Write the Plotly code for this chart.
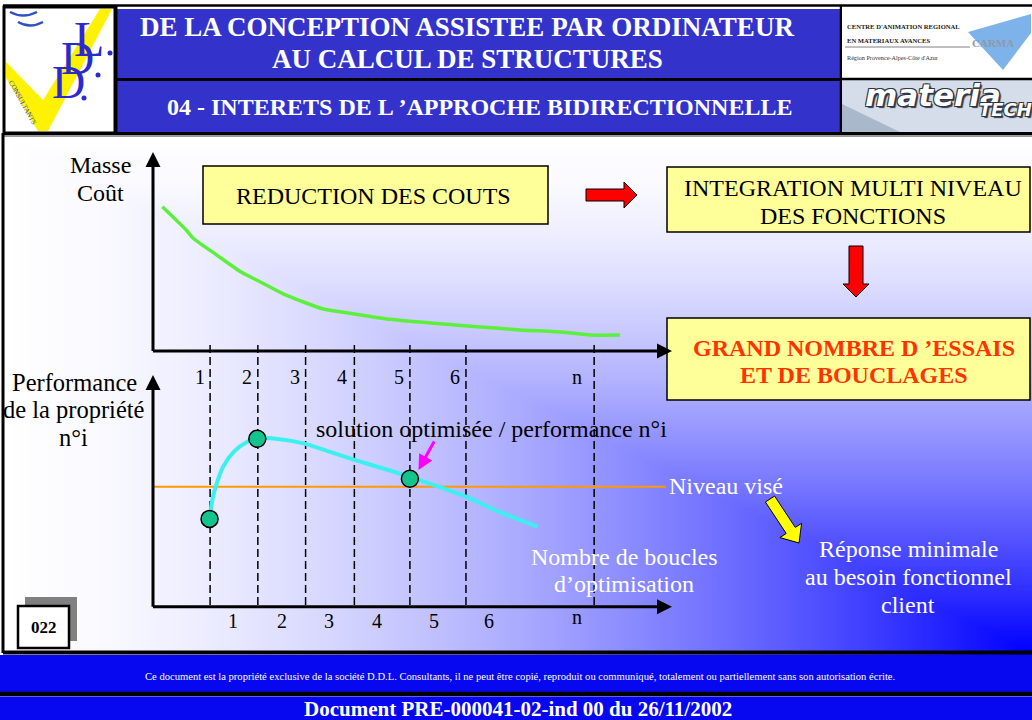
import math
import numpy as np
import plotly.graph_objects as go

W, H = 1032, 720

# ---------------- chart values (loop index on x) ----------------
loop_marks = [1.10, 2.02, 2.94, 3.88, 4.95, 6.03, 8.50]
loop_labels = ["1", "2", "3", "4", "5", "6", "n"]
upper_label_x = [0.90, 1.81, 2.74, 3.65, 4.74, 5.82, 8.16]
lower_label_x = [1.55, 2.48, 3.40, 4.32, 5.41, 6.48, 8.16]

# mass / cost versus number of loops
cost_x = [0.18, 0.64, 0.77, 1.23, 1.69, 2.06, 2.52, 3.28, 3.74, 4.57, 5.41, 6.24, 7.07, 7.92, 8.42, 9.00]
cost_y = [72.5, 60.8, 56.8, 48.2, 39.8, 34.8, 28.6, 21.1, 19.2, 15.9, 13.9, 12.2, 10.6, 9.4, 8.0, 8.0]

# performance of property n°i versus number of loops
perf_x = [1.09, 1.15, 1.23, 1.35, 1.56, 1.82, 2.02, 2.48, 2.90, 3.40, 3.90, 4.32, 4.95, 5.41, 6.03, 6.66, 7.41]
perf_y = [38.0, 46.8, 53.3, 60.4, 66.9, 71.2, 72.7, 72.2, 70.5, 66.9, 63.3, 60.4, 56.1, 52.5, 47.5, 41.0, 34.5]

# highlighted solutions
sol_x = [1.09, 2.01, 4.95]
sol_y = [37.9, 72.5, 55.2]

target_level = 51.8
target_end = 9.88

SERIF = "Liberation Serif"

fig = go.Figure()

# ---------------- background gradient of the slide body ----------------
gx = np.linspace(4, W, 130)
gy = np.linspace(136, 651, 66)
GX, GY = np.meshgrid(gx, gy)
T = np.clip(np.maximum((1030 - GX) / 1026.0, (651 - GY) / 515.0), 0, 1)
stops = np.linspace(0, 1, 11)
cscale = []
for t in stops:
    v = int(round(255 * (1 - (1 - t) ** 1.6)))
    cscale.append([float(t), f"rgb({v},{v},255)"])
fig.add_trace(go.Heatmap(x=gx, y=gy, z=T, colorscale=cscale, zmin=0, zmax=1,
                         showscale=False, zsmooth="best", hoverinfo="skip",
                         xaxis="x", yaxis="y"))

# ---------------- dashed loop markers ----------------
dxs, dys = [], []
for m in loop_marks:
    dxs += [m, m, None]
    dys += [0, 1, None]
fig.add_trace(go.Scatter(x=dxs, y=dys, mode="lines", xaxis="x2", yaxis="y2",
                         line=dict(color="black", width=1.5, dash="8px,4px"),
                         hoverinfo="skip"))

# ---------------- upper chart: mass / cost ----------------
fig.add_trace(go.Scatter(x=cost_x, y=cost_y, mode="lines", xaxis="x3", yaxis="y3",
                         line=dict(color="#5CF03C", width=3.5, shape="spline", smoothing=0.6),
                         hoverinfo="skip"))

# ---------------- lower chart: performance ----------------
fig.add_trace(go.Scatter(x=[0, target_end], y=[target_level, target_level], mode="lines",
                         xaxis="x4", yaxis="y4", line=dict(color="#FF9900", width=2),
                         hoverinfo="skip"))
fig.add_trace(go.Scatter(x=perf_x, y=perf_y, mode="lines", xaxis="x4", yaxis="y4",
                         line=dict(color="#3CF0F0", width=4, shape="spline", smoothing=0.7),
                         hoverinfo="skip"))
fig.add_trace(go.Scatter(x=sol_x, y=sol_y, mode="markers", xaxis="x4", yaxis="y4",
                         marker=dict(size=17, color="#14C48C", line=dict(color="black", width=1.5)),
                         hoverinfo="skip"))

shapes = []
annots = []


def rect(x0, y0, x1, y1, fill, lc="rgba(0,0,0,0)", lw=0):
    shapes.append(dict(type="rect", xref="x", yref="y", x0=x0, y0=y0, x1=x1, y1=y1,
                       fillcolor=fill, line=dict(color=lc, width=lw), layer="above"))


def hline(x0, x1, y, color="black", lw=2):
    shapes.append(dict(type="line", xref="x", yref="y", x0=x0, x1=x1, y0=y, y1=y,
                       line=dict(color=color, width=lw), layer="above"))


def vline(x, y0, y1, color="black", lw=2):
    shapes.append(dict(type="line", xref="x", yref="y", x0=x, x1=x, y0=y0, y1=y1,
                       line=dict(color=color, width=lw), layer="above"))


def path(d, fill="rgba(0,0,0,0)", lc="rgba(0,0,0,0)", lw=0):
    shapes.append(dict(type="path", xref="x", yref="y", path=d, fillcolor=fill,
                       line=dict(color=lc, width=lw), layer="above"))


def block_arrow(tail, tip, shaft_w, head_w, head_len, fill, lc="black", lw=1):
    tx, ty = tail
    px, py = tip
    dx, dy = px - tx, py - ty
    L = math.hypot(dx, dy)
    ux, uy = dx / L, dy / L
    nx, ny = -uy, ux
    bx, by = px - ux * head_len, py - uy * head_len
    s, h = shaft_w / 2, head_w / 2
    pts = [(tx + nx * s, ty + ny * s), (bx + nx * s, by + ny * s), (bx + nx * h, by + ny * h),
           (px, py), (bx - nx * h, by - ny * h), (bx - nx * s, by - ny * s), (tx - nx * s, ty - ny * s)]
    d = "M " + " L ".join(f"{a:.1f},{b:.1f}" for a, b in pts) + " Z"
    path(d, fill, lc, lw)


def txt(x, y, s, size, color="black", bold=False, xanchor="center", family=SERIF,
        angle=0, italic=False, xref="x", yref="y", shadow=None):
    font = dict(family=family, size=size, color=color,
                weight="bold" if bold else "normal",
                style="italic" if italic else "normal")
    if shadow:
        font["shadow"] = shadow
    annots.append(dict(xref=xref, yref=yref, x=x, y=y, text=s, showarrow=False,
                       xanchor=xanchor, yanchor="middle", textangle=angle, font=font))


def arrow(xr, yr, tip, tail, color="black", width=3, size=1.0):
    annots.append(dict(xref=xr, yref=yr, axref=xr, ayref=yr, x=tip[0], y=tip[1],
                       ax=tail[0], ay=tail[1], text="", showarrow=True, arrowhead=2,
                       arrowsize=size, arrowwidth=width, arrowcolor=color, standoff=0))


# ---------------- header ----------------
hline(3, W, 5.5, "black", 2.5)
rect(117, 9, 840, 133, "#3333CC")
hline(117, 840, 79.5, "black", 3)
hline(3, W, 133.5, "black", 3)
hline(3, W, 136, "#9A9A9A", 2)
vline(116, 6, 134, "black", 3)
vline(841, 6, 134, "black", 2.5)

txt(467, 27, "DE LA CONCEPTION ASSISTEE PAR ORDINATEUR", 27, "white", bold=True)
txt(467, 59, "AU CALCUL DE STRUCTURES", 27, "white", bold=True)
txt(479, 107, "04 - INTERETS DE L ’APPROCHE BIDIRECTIONNELLE", 24, "white", bold=True)

# left logo (D.D.L. Consultants)
rect(4, 7, 115, 133, "white")
path("M 6,62 L 43,100 L 100,9 L 112,9 L 48,131 L 38,131 L 6,78 Z", "#FFF200")
path("M 10,12 Q 23,19 37,12", lc="#3050C0", lw=2.5)
path("M 18,22 Q 30,29 43,22", lc="#3050C0", lw=2.5)
path("M 86.6,133 A 18,18 0 0 1 115,111.1 L 115,133 Z", "#2E3EC0")
path("M 96,116 A 7,6 0 0 1 108,110 L 104,118 Z", "#8090E0")
txt(89, 39, "L", 50, "#2A2ACF")
txt(77, 58, "D", 46, "#2A2ACF")
txt(68, 82, "D", 46, "#2A2ACF")
for cx, cy in [(110, 53), (98, 75), (84, 98)]:
    shapes.append(dict(type="circle", xref="x", yref="y", x0=cx - 2.5, x1=cx + 2.5,
                       y0=cy - 2.5, y1=cy + 2.5, fillcolor="#2A2ACF",
                       line=dict(width=0), layer="above"))
txt(22, 102, "CONSULTANTS", 7, "#3040B0", angle=61)
shapes.append(dict(type="rect", xref="x", yref="y", x0=4, y0=7, x1=115, y1=133,
                   fillcolor="rgba(0,0,0,0)", line=dict(color="black", width=3), layer="above"))

# right logos
rect(842, 7, W, 78, "white")
txt(845, 26, "CENTRE D'ANIMATION REGIONAL", 6.6, "#202020", bold=True, xanchor="left")
txt(845, 40.5, "EN MATERIAUX AVANCES", 6.6, "#202020", bold=True, xanchor="left")
hline(845, 970, 47, "#606060", 0.8)
txt(845, 57, "Région Provence-Alpes-Côte d'Azur", 6.2, "#303030", xanchor="left")
path("M 968,32 L 1031,14 L 1031,33 L 1003,70 Z", "#7EB2EA")
txt(993, 43, "CARMA", 11, "#8C9AA8", bold=True)
rect(842, 80, W, 132, "#D4DDE9")
path("M 842,104 L 900,132 L 842,132 Z", "#AAB8CC")
hline(842, W, 79, "black", 2.5)
OUTLINE = ("1px 1px 0 #303848, -1px -1px 0 #303848, 1px -1px 0 #303848, "
           "-1px 1px 0 #303848, 2px 2px 1px #303848")
txt(933, 95, "materia", 31, "white", bold=True, italic=True, family="DejaVu Sans", shadow=OUTLINE)
txt(1005, 109, "TECH", 18, "white", bold=True, italic=True, family="DejaVu Sans", shadow=OUTLINE)

# ---------------- slide body frame ----------------
vline(3, 133, 653, "black", 3)

# ---------------- boxes ----------------
rect(203, 166, 548, 224, "#FFFF99", "black", 1.5)
rect(667, 167, 1030, 232, "#FFFF99", "black", 1.5)
rect(667, 318, 1030, 400, "#FFFF99", "black", 1.5)

block_arrow((586, 195), (637, 195), 12, 26, 13, "#FF0000")
block_arrow((856, 246), (856, 297), 14, 26, 13, "#FF0000")
block_arrow((770, 499), (799, 543), 11, 26, 15, "#FFFF00")

txt(373, 196, "REDUCTION DES COUTS", 24)
txt(853, 188, "INTEGRATION MULTI NIVEAU", 24)
txt(853, 216, "DES FONCTIONS", 24)
txt(854, 348, "GRAND NOMBRE D ’ESSAIS", 24, "#FF3300", bold=True)
txt(854, 375, "ET DE BOUCLAGES", 24, "#FF3300", bold=True)

# axis titles
txt(100, 165, "Masse", 24)
txt(100, 193, "Coût", 24)
txt(74, 382, "Performance", 24.5)
txt(74, 409, "de la propriété", 24.5)
txt(73, 437, "n°i", 24.5)

# ---------------- axes with arrows ----------------
arrow("x3", "y3", (0, 100), (0, -0.8))
arrow("x3", "y3", (10, 0), (-0.03, 0))
arrow("x4", "y4", (0, 100), (0, -0.7))
arrow("x4", "y4", (10, 0), (-0.03, 0))

# loop labels
for lx, lab in zip(upper_label_x, loop_labels):
    txt(lx, 377, lab, 20, xref="x3")
for lx, lab in zip(lower_label_x, loop_labels):
    txt(lx, 617 if lab == "n" else 621, lab, 20, xref="x4")

# annotations of the lower chart
txt(491, 429, "solution optimisée / performance n°i", 24)
arrow("x", "y", (418.5, 470), (435, 440), "#FF00FF", 3, 1.0)
txt(667, 486, "Niveau visé", 24, "white", xanchor="left")
txt(624, 557, "Nombre de boucles", 24, "white")
txt(624, 584, "d’optimisation", 24, "white")
txt(908, 549, "Réponse minimale", 24, "white")
txt(908, 577, "au besoin fonctionnel", 24, "white")
txt(908, 605, "client", 24, "white")

# page number
rect(25, 597, 77, 641, "#808080")
rect(18, 606, 69, 648, "white", "black", 2.5)
txt(43.5, 627, "022", 17, bold=True)

# ---------------- footer ----------------
hline(3, W, 652.5, "black", 4)
rect(0, 655, W, 692, "#0808F0")
hline(0, W, 694, "black", 4.5)
rect(0, 696.5, W, H, "#0808F0")
txt(520, 676, "Ce document est la propriété exclusive de la société D.D.L. Consultants, il ne peut être copié, "
              "reproduit ou communiqué, totalement ou partiellement sans son autorisation écrite.", 10.6, "white")
txt(518, 708.5, "Document PRE-000041-02-ind 00 du 26/11/2002", 21, "white", bold=True)

ax_off = dict(visible=False, showgrid=False, zeroline=False, fixedrange=True)
XD = [153 / W, 672 / W]


def ydom(bottom_px, top_px):
    return [(H - bottom_px) / H, (H - top_px) / H]


fig.update_layout(
    width=W, height=H, margin=dict(l=0, r=0, t=0, b=0),
    paper_bgcolor="white", plot_bgcolor="rgba(0,0,0,0)", showlegend=False,
    xaxis=dict(domain=[0, 1], range=[0, W], **ax_off),
    yaxis=dict(domain=[0, 1], range=[H, 0], **ax_off),
    xaxis2=dict(domain=XD, range=[0, 10], anchor="y2", **ax_off),
    yaxis2=dict(domain=ydom(605, 342), range=[0, 1], anchor="x2", **ax_off),
    xaxis3=dict(domain=XD, range=[0, 10], anchor="y3", **ax_off),
    yaxis3=dict(domain=ydom(351, 152), range=[0, 100], anchor="x3", **ax_off),
    xaxis4=dict(domain=XD, range=[0, 10], anchor="y4", **ax_off),
    yaxis4=dict(domain=ydom(606.7, 375), range=[0, 100], anchor="x4", **ax_off),
    shapes=shapes, annotations=annots,
)

fig.write_html("out.html")
